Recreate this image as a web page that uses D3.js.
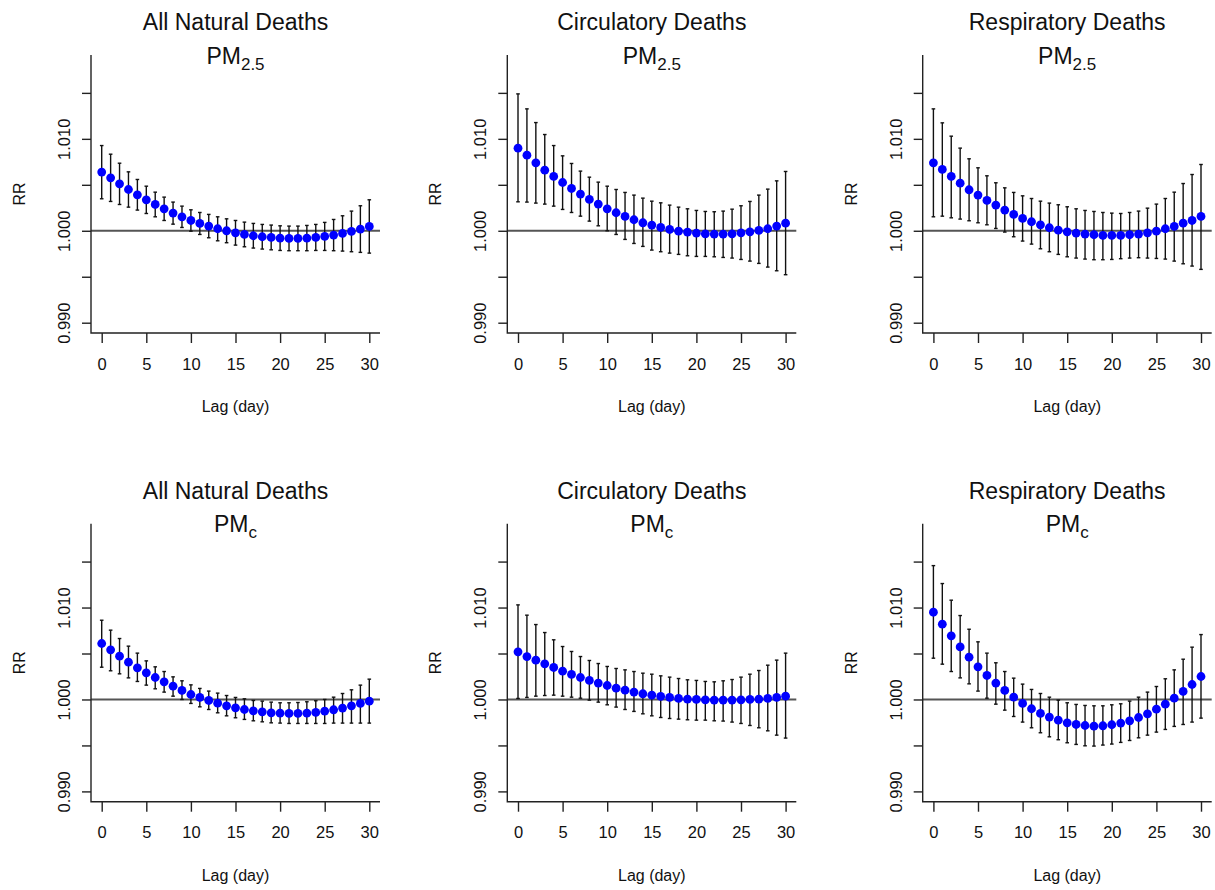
<!DOCTYPE html>
<html>
<head>
<meta charset="utf-8">
<script src="https://cdn.jsdelivr.net/npm/d3@7"></script>
<style>
  body { margin: 0; background: #fff; }
  svg text { font-family: "Liberation Sans", Arial, Helvetica, sans-serif; fill: #111; }
</style>
</head>
<body>
<div class="svgContainer"></div>
<script>
/* lag days on the x axis */
var lags = [0, 1, 2, 3, 4, 5, 6, 7, 8, 9, 10, 11, 12, 13, 14, 15, 16, 17, 18, 19, 20,
            21, 22, 23, 24, 25, 26, 27, 28, 29, 30];

/* panel titles */
var causes = ["All Natural Deaths", "Circulatory Deaths", "Respiratory Deaths"];
var pollutantSubs = ["2.5", "c"];

/* axis ticks */
var xTicks = [0, 5, 10, 15, 20, 25, 30];
var yTicks = [0.990, 0.995, 1.000, 1.005, 1.010, 1.015];
var yTickLabels = ["0.990", "", "1.000", "", "1.010", ""];
var yLimits = [0.990, 1.018];

/* 1) all natural deaths, PM2.5 */
var anPm25Est = [1.00638, 1.00576, 1.00511, 1.00449, 1.00391, 1.00337, 1.00286, 1.00239, 1.00192, 1.00152, 1.00112,
                 1.00080, 1.00051, 1.00022, 1.00000, 0.99978, 0.99960, 0.99946, 0.99935, 0.99928, 0.99920,
                 0.99917, 0.99917, 0.99920, 0.99928, 0.99938, 0.99953, 0.99971, 0.99993, 1.00018, 1.00047];
var anPm25Lo = [1.00348, 1.00319, 1.00286, 1.00257, 1.00225, 1.00188, 1.00152, 1.00112, 1.00072, 1.00036, 0.99996,
                0.99960, 0.99924, 0.99891, 0.99870, 0.99844, 0.99826, 0.99812, 0.99801, 0.99793, 0.99786,
                0.99783, 0.99783, 0.99783, 0.99786, 0.99786, 0.99783, 0.99779, 0.99772, 0.99765, 0.99757];
var anPm25Hi = [1.00927, 1.00833, 1.00735, 1.00641, 1.00558, 1.00485, 1.00420, 1.00366, 1.00312, 1.00268, 1.00228,
                1.00199, 1.00178, 1.00152, 1.00130, 1.00112, 1.00094, 1.00080, 1.00069, 1.00062, 1.00054,
                1.00051, 1.00051, 1.00058, 1.00069, 1.00091, 1.00123, 1.00163, 1.00214, 1.00272, 1.00337];

/* 2) circulatory deaths, PM2.5 */
var ciPm25Est = [1.00899, 1.00822, 1.00739, 1.00659, 1.00591, 1.00525, 1.00460, 1.00399, 1.00341, 1.00290, 1.00239,
                 1.00196, 1.00156, 1.00120, 1.00087, 1.00062, 1.00036, 1.00014, 0.99996, 0.99986, 0.99975,
                 0.99967, 0.99964, 0.99964, 0.99967, 0.99978, 0.99989, 1.00004, 1.00022, 1.00051, 1.00083];
var ciPm25Lo = [1.00315, 1.00312, 1.00301, 1.00290, 1.00268, 1.00232, 1.00199, 1.00159, 1.00105, 1.00054, 1.00000,
                0.99960, 0.99906, 0.99862, 0.99830, 0.99790, 0.99772, 0.99757, 0.99743, 0.99728, 0.99721,
                0.99721, 0.99717, 0.99710, 0.99703, 0.99688, 0.99670, 0.99645, 0.99605, 0.99565, 0.99522];
var ciPm25Hi = [1.01489, 1.01326, 1.01177, 1.01047, 1.00927, 1.00815, 1.00732, 1.00649, 1.00583, 1.00529, 1.00485,
                1.00449, 1.00417, 1.00388, 1.00355, 1.00322, 1.00304, 1.00279, 1.00257, 1.00239, 1.00221,
                1.00210, 1.00207, 1.00214, 1.00235, 1.00272, 1.00319, 1.00388, 1.00453, 1.00543, 1.00645];

/* 3) respiratory deaths, PM2.5 */
var rePm25Est = [1.00739, 1.00667, 1.00591, 1.00518, 1.00446, 1.00388, 1.00330, 1.00279, 1.00225, 1.00178, 1.00134,
                 1.00098, 1.00065, 1.00033, 1.00007, 0.99989, 0.99975, 0.99964, 0.99957, 0.99949, 0.99949,
                 0.99949, 0.99957, 0.99964, 0.99978, 0.99996, 1.00022, 1.00047, 1.00083, 1.00112, 1.00156];
var rePm25Lo = [1.00152, 1.00159, 1.00141, 1.00127, 1.00109, 1.00087, 1.00065, 1.00025, 0.99986, 0.99935, 0.99888,
                0.99855, 0.99804, 0.99772, 0.99743, 0.99717, 0.99703, 0.99692, 0.99685, 0.99685, 0.99688,
                0.99696, 0.99703, 0.99707, 0.99703, 0.99699, 0.99692, 0.99670, 0.99641, 0.99616, 0.99580];
var rePm25Hi = [1.01326, 1.01174, 1.01029, 1.00899, 1.00783, 1.00685, 1.00598, 1.00522, 1.00467, 1.00417, 1.00380,
                1.00351, 1.00322, 1.00301, 1.00283, 1.00261, 1.00239, 1.00221, 1.00210, 1.00199, 1.00192,
                1.00188, 1.00199, 1.00214, 1.00246, 1.00290, 1.00351, 1.00420, 1.00514, 1.00612, 1.00721];

/* 4) all natural deaths, PMc */
var anPmcEst = [1.00609, 1.00540, 1.00471, 1.00406, 1.00344, 1.00290, 1.00239, 1.00192, 1.00145, 1.00098, 1.00054,
                1.00022, 0.99989, 0.99960, 0.99931, 0.99909, 0.99891, 0.99877, 0.99866, 0.99855, 0.99851,
                0.99848, 0.99848, 0.99851, 0.99859, 0.99873, 0.99888, 0.99906, 0.99931, 0.99957, 0.99982];
var anPmcLo = [1.00351, 1.00312, 1.00279, 1.00235, 1.00196, 1.00156, 1.00116, 1.00080, 1.00036, 1.00000, 0.99957,
               0.99920, 0.99891, 0.99855, 0.99822, 0.99801, 0.99783, 0.99768, 0.99757, 0.99746, 0.99743,
               0.99739, 0.99739, 0.99739, 0.99739, 0.99739, 0.99743, 0.99743, 0.99743, 0.99743, 0.99743];
var anPmcHi = [1.00862, 1.00754, 1.00663, 1.00580, 1.00504, 1.00420, 1.00355, 1.00304, 1.00246, 1.00203, 1.00159,
               1.00120, 1.00091, 1.00069, 1.00043, 1.00022, 1.00007, 0.99989, 0.99982, 0.99971, 0.99964,
               0.99964, 0.99967, 0.99975, 0.99986, 1.00000, 1.00025, 1.00065, 1.00105, 1.00156, 1.00221];

/* 5) circulatory deaths, PMc */
var ciPmcEst = [1.00518, 1.00467, 1.00428, 1.00388, 1.00348, 1.00308, 1.00272, 1.00239, 1.00207, 1.00178, 1.00152,
                1.00123, 1.00101, 1.00080, 1.00062, 1.00047, 1.00033, 1.00022, 1.00011, 1.00004, 1.00000,
                0.99996, 0.99993, 0.99993, 0.99993, 0.99996, 1.00000, 1.00004, 1.00011, 1.00022, 1.00036];
var ciPmcLo = [1.00011, 1.00022, 1.00036, 1.00043, 1.00047, 1.00036, 1.00025, 1.00014, 0.99993, 0.99971, 0.99942,
               0.99917, 0.99891, 0.99870, 0.99844, 0.99822, 0.99804, 0.99793, 0.99786, 0.99779, 0.99775,
               0.99775, 0.99768, 0.99765, 0.99754, 0.99739, 0.99717, 0.99692, 0.99659, 0.99612, 0.99580];
var ciPmcHi = [1.01029, 1.00917, 1.00815, 1.00728, 1.00649, 1.00576, 1.00522, 1.00467, 1.00424, 1.00391, 1.00359,
               1.00337, 1.00322, 1.00304, 1.00286, 1.00275, 1.00257, 1.00243, 1.00228, 1.00214, 1.00207,
               1.00196, 1.00192, 1.00203, 1.00217, 1.00243, 1.00275, 1.00315, 1.00373, 1.00428, 1.00504];

/* 6) respiratory deaths, PMc */
var rePmcEst = [1.00949, 1.00819, 1.00692, 1.00572, 1.00460, 1.00355, 1.00261, 1.00178, 1.00098, 1.00025, 0.99957,
                0.99899, 0.99848, 0.99808, 0.99775, 0.99746, 0.99728, 0.99717, 0.99710, 0.99714, 0.99725,
                0.99743, 0.99768, 0.99804, 0.99844, 0.99895, 0.99949, 1.00014, 1.00087, 1.00163, 1.00250];
var rePmcLo = [1.00449, 1.00384, 1.00304, 1.00235, 1.00170, 1.00091, 1.00014, 0.99949, 0.99884, 0.99815, 0.99754,
               0.99692, 0.99638, 0.99594, 0.99562, 0.99529, 0.99511, 0.99496, 0.99493, 0.99504, 0.99515,
               0.99533, 0.99554, 0.99583, 0.99612, 0.99645, 0.99674, 0.99707, 0.99728, 0.99754, 0.99797];
var rePmcHi = [1.01456, 1.01261, 1.01080, 1.00913, 1.00764, 1.00627, 1.00504, 1.00399, 1.00304, 1.00232, 1.00167,
               1.00109, 1.00065, 1.00025, 0.99993, 0.99964, 0.99946, 0.99935, 0.99931, 0.99931, 0.99942,
               0.99953, 0.99982, 1.00025, 1.00080, 1.00141, 1.00225, 1.00322, 1.00438, 1.00569, 1.00706];

/* panels in reading order: [row][col] */
var panelData = [
  [[anPm25Est, anPm25Lo, anPm25Hi], [ciPm25Est, ciPm25Lo, ciPm25Hi], [rePm25Est, rePm25Lo, rePm25Hi]],
  [[anPmcEst, anPmcLo, anPmcHi], [ciPmcEst, ciPmcLo, ciPmcHi], [rePmcEst, rePmcLo, rePmcHi]]
];

/* layout */
var canvas_width = 1215,
    canvas_height = 890;
var plotLeft = [91, 507.3, 922.7],
    plotTop = [55, 523.7],
    plot_w = 289,
    plot_h = 278;

var svg = d3.select(".svgContainer")
  .append("svg")
    .attr("width", canvas_width)
    .attr("height", canvas_height);

/* R-style 4% axis extension */
var xPad = (lags[lags.length - 1] - lags[0]) * 0.04,
    yPad = (yLimits[1] - yLimits[0]) * 0.04;

var x = d3.scaleLinear()
  .domain([lags[0] - xPad, lags[lags.length - 1] + xPad])
  .range([0, plot_w]);
var y = d3.scaleLinear()
  .domain([yLimits[0] - yPad, yLimits[1] + yPad])
  .range([plot_h, 0]);

for (var r = 0; r < 2; r++) {
  for (var c = 0; c < 3; c++) {
    var est = panelData[r][c][0],
        lo = panelData[r][c][1],
        hi = panelData[r][c][2];

    var g = svg.append("g")
      .attr("transform", "translate(" + plotLeft[c] + "," + plotTop[r] + ")");

    /* titles */
    g.append("text")
      .attr("x", plot_w / 2)
      .attr("y", -25)
      .attr("text-anchor", "middle")
      .style("font-size", "23px")
      .text(causes[c]);
    var sub = g.append("text")
      .attr("x", plot_w / 2)
      .attr("y", 8.5)
      .attr("text-anchor", "middle")
      .style("font-size", "23px");
    sub.append("tspan").text("PM");
    sub.append("tspan")
      .attr("dy", 6)
      .style("font-size", "17px")
      .text(pollutantSubs[r]);

    /* reference line at RR = 1 */
    g.append("line")
      .attr("x1", 0).attr("x2", plot_w)
      .attr("y1", y(1)).attr("y2", y(1))
      .attr("stroke", "#555")
      .attr("stroke-width", 2);

    /* L-shaped box */
    g.append("path")
      .attr("d", "M0,0V" + plot_h + "H" + plot_w)
      .attr("fill", "none")
      .attr("stroke", "#222")
      .attr("stroke-width", 1.4);

    /* y axis */
    var yAxis = d3.axisLeft(y)
      .tickValues(yTicks)
      .tickSize(9)
      .tickFormat(function(d, i) { return yTickLabels[i]; });
    var ya = g.append("g").call(yAxis);
    ya.select(".domain").remove();
    ya.selectAll(".tick line").attr("stroke", "#222").attr("stroke-width", 1.4);
    ya.selectAll(".tick text")
      .attr("transform", "rotate(-90)")
      .attr("x", 0)
      .attr("y", -21)
      .attr("dy", 0)
      .attr("text-anchor", "middle")
      .style("font-size", "16.5px")
      .attr("fill", "#111");

    /* x axis */
    var xAxis = d3.axisBottom(x)
      .tickValues(xTicks)
      .tickSize(10)
      .tickPadding(15);
    var xa = g.append("g")
      .attr("transform", "translate(0," + plot_h + ")")
      .call(xAxis);
    xa.select(".domain").remove();
    xa.selectAll(".tick line").attr("stroke", "#222").attr("stroke-width", 1.4);
    xa.selectAll(".tick text")
      .style("font-size", "16.5px")
      .attr("fill", "#111");

    /* axis titles */
    g.append("text")
      .attr("x", plot_w / 2)
      .attr("y", plot_h + 79)
      .attr("text-anchor", "middle")
      .style("font-size", "16px")
      .text("Lag (day)");
    g.append("text")
      .attr("transform", "translate(-66," + (plot_h / 2) + ") rotate(-90)")
      .attr("text-anchor", "middle")
      .style("font-size", "16px")
      .text("RR");

    /* error bars */
    var bars = g.append("g").selectAll("g")
      .data(lags)
      .enter()
      .append("g");
    bars.append("line")
      .attr("x1", function(d) { return x(d); })
      .attr("x2", function(d) { return x(d); })
      .attr("y1", function(d, i) { return y(lo[i]); })
      .attr("y2", function(d, i) { return y(hi[i]); })
      .attr("stroke", "#111")
      .attr("stroke-width", 1.4);
    [lo, hi].forEach(function(arr) {
      bars.append("line")
        .attr("x1", function(d) { return x(d) - 1.8; })
        .attr("x2", function(d) { return x(d) + 1.8; })
        .attr("y1", function(d, i) { return y(arr[i]); })
        .attr("y2", function(d, i) { return y(arr[i]); })
        .attr("stroke", "#111")
        .attr("stroke-width", 1.4);
    });

    /* point estimates */
    g.append("g").selectAll("circle")
      .data(lags)
      .enter()
      .append("circle")
        .attr("cx", function(d) { return x(d); })
        .attr("cy", function(d, i) { return y(est[i]); })
        .attr("r", 4.4)
        .attr("fill", "#0000ff");
  }
}
</script>
</body>
</html>
